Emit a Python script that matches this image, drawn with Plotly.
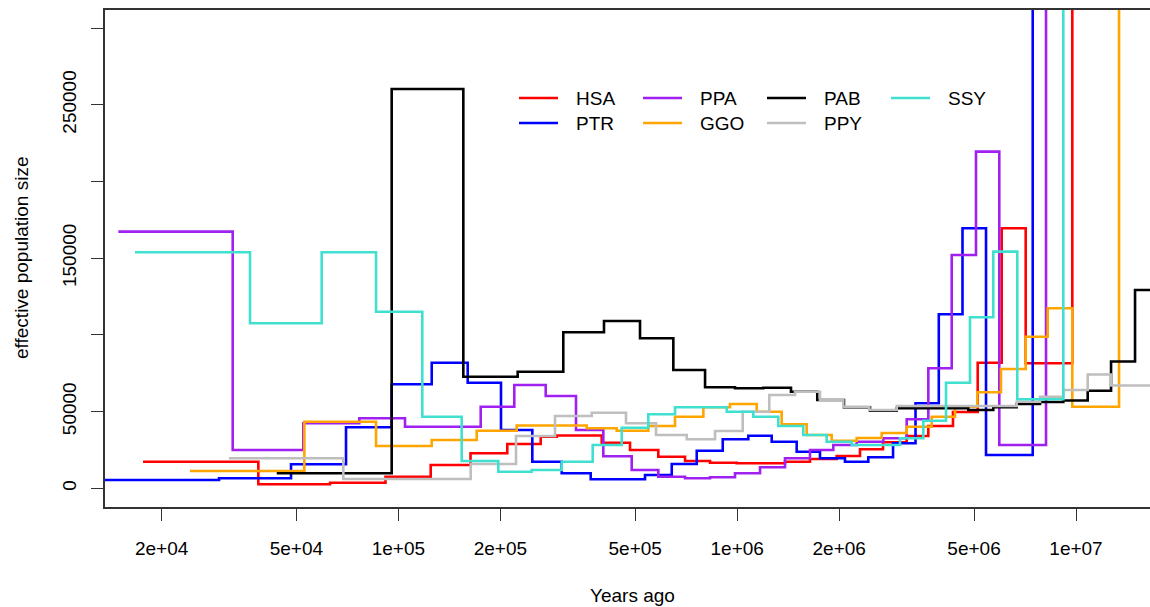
import plotly.graph_objects as go

# PSMC history per species: start of each time interval (years ago) and Ne in that interval
HSA_YEARS = [17630, 38600, 62830, 91600, 124550, 163240, 209580, 263030, 293230, 398200,
             482620, 584970, 701580, 831450, 996550, 1383700, 1639900, 1966100, 2304000,
             2694000, 3164600, 3665000, 4334000, 5127000, 6035000, 7104000, 9752000]
HSA_NE = [17340, 2610, 3650, 7560, 15190, 22820, 28880, 33640, 34430, 29730,
          24970, 20600, 17800, 16690, 16300, 17340, 19100, 21060, 25420,
          29990, 34100, 40620, 49750, 81890, 169520, 81500, 1200000]

PTR_YEARS = [13000, 29550, 48200, 70040, 95540, 125410, 160150, 200810, 248460, 303390,
             369470, 534450, 640890, 759570, 906400, 1078400, 1264100, 1498100, 1755200,
             2080000, 2437800, 2884000, 3359800, 3935500, 4623800, 5424900, 7451300]
PTR_NE = [5410, 6520, 15650, 39770, 67810, 81890, 68850, 38010, 17340, 9780,
          5870, 8670, 15840, 24510, 31950, 34300, 30380, 23860, 19560,
          17340, 20210, 29340, 55420, 113450, 169520, 21710, 1200000]

PPA_YEARS = [14906, 32430, 52410, 76660, 104590, 174960, 219810, 272150, 334340, 402530,
             488210, 584970, 701580, 831450, 985150, 1167600, 1383700, 1639900, 1921400,
             2252600, 2699000, 3164600, 3665300, 4296600, 5067500, 5937000, 8157000]
PPA_NE = [167300, 24970, 42380, 45640, 40160, 53200, 67350, 60180, 38010, 20860,
          11930, 7560, 6520, 7170, 9780, 13690, 19560, 24970, 28230,
          30380, 32600, 44990, 78240, 152110, 219460, 28230, 1200000]

GGO_YEARS = [24260, 52770, 85900, 125410, 170270, 223430, 359560, 440870, 546530, 655360,
             794450, 952400, 1141800, 1352900, 1603400, 1900300, 2252600, 2670500, 3164600,
             3750600, 4394600, 5113200, 6005700, 7104200, 8251400, 9752200, 13397000]
GGO_NE = [11280, 43420, 27580, 31490, 37560, 40950, 39120, 37560, 40620, 46680,
          52810, 54960, 49940, 41730, 34750, 31030, 32800, 36060, 40160,
          46680, 53200, 62590, 77780, 98840, 117360, 53200, 1200000]

PAB_YEARS = [43740, 95540, 155460, 224930, 306680, 404390, 516550, 647860, 803780, 985150,
             1194000, 1441300, 1723200, 2065800, 2466000, 2957200, 4809500, 5699900,
             6683400, 7829700, 9172800, 10827000, 12689000, 14936000]
PAB_NE = [9780, 260340, 72760, 76020, 101710, 109080, 97800, 77130, 65850, 65200,
          65590, 62980, 57570, 52810, 50600, 52160, 51050, 52810,
          54960, 56270, 57250, 63640, 82670, 129290]

PPY_YEARS = [31620, 68780, 163450, 222360, 289870, 372030, 469680, 575890, 709700, 860240,
             1038000, 1243600, 1481000, 1755200, 2056300, 2454100, 2957200, 6683400,
             7829700, 9172800, 10827000, 12689000]
PPY_NE = [19560, 6060, 15840, 34100, 47140, 49290, 42380, 34750, 31950, 37360,
          49940, 60830, 62980, 57570, 53200, 51050, 53660, 56460,
          59720, 64090, 74200, 67030]

SSY_YEARS = [16693, 36480, 59370, 85900, 117640, 153750, 197180, 247430, 303390, 374520,
             456140, 546530, 655360, 931400, 1115500, 1322100, 1566800, 1837000, 2177700,
             3024100, 3542500, 4133600, 4865200, 5699900, 6709600, 9172800]
SSY_NE = [153870, 107580, 153870, 115140, 46680, 17800, 10820, 11930, 17340, 28230,
          39510, 48250, 52810, 49940, 46680, 40620, 34750, 30380, 28230,
          32600, 44080, 68850, 111490, 154260, 58030, 1200000]

SERIES = [
    ("HSA", HSA_YEARS, HSA_NE, "#FF0000"),
    ("PTR", PTR_YEARS, PTR_NE, "#0000FF"),
    ("PPA", PPA_YEARS, PPA_NE, "#A020F0"),
    ("GGO", GGO_YEARS, GGO_NE, "#FFA500"),
    ("PAB", PAB_YEARS, PAB_NE, "#000000"),
    ("PPY", PPY_YEARS, PPY_NE, "#BEBEBE"),
    ("SSY", SSY_YEARS, SSY_NE, "#40E0D0"),
]
T_END = 2.5e7

X_TICKS = [2e4, 5e4, 1e5, 2e5, 5e5, 1e6, 2e6, 5e6, 1e7]
X_TICK_TEXT = ["2e+04", "5e+04", "1e+05", "2e+05", "5e+05", "1e+06", "2e+06", "5e+06", "1e+07"]
Y_TICKS = [0, 50000, 100000, 150000, 200000, 250000, 300000]
Y_TICK_TEXT = ["0", "50000", "", "150000", "", "250000", ""]

W, H = 1150, 607
ML, MR, MT, MB = 105, 0, 10, 100
FONT = "Liberation Sans, Arial, Helvetica, sans-serif"
AXIS_COLOR = "#333333"


def px_to_paper(px, py):
    return (px - ML) / (W - ML - MR), (H - MB - py) / (H - MT - MB)


fig = go.Figure()
for name, years, ne, color in SERIES:
    fig.add_trace(go.Scatter(
        x=list(years) + [T_END],
        y=list(ne) + [ne[-1]],
        mode="lines",
        name=name,
        line=dict(color=color, width=2.6, shape="hv"),
        showlegend=False,
        hoverinfo="skip",
    ))

# Legend: two rows, filled column by column
shapes, annotations = [], []
for i, (name, _, _, color) in enumerate(SERIES):
    col, row = divmod(i, 2)
    y_px = 98 + 25 * row
    x0_px = 519 + 124 * col
    x0, yp = px_to_paper(x0_px, y_px)
    x1, _ = px_to_paper(x0_px + 39, y_px)
    xt, _ = px_to_paper(x0_px + 55, y_px)
    shapes.append(dict(type="line", xref="paper", yref="paper", x0=x0, x1=x1, y0=yp, y1=yp,
                       line=dict(color=color, width=2.6)))
    annotations.append(dict(xref="paper", yref="paper", x=xt, y=yp, text=name, showarrow=False,
                            xanchor="left", yanchor="middle", font=dict(size=19, color="#000")))

# Axis titles
tx, ty = px_to_paper(632, 595)
annotations.append(dict(xref="paper", yref="paper", x=tx, y=ty, text="Years ago", showarrow=False,
                        xanchor="center", yanchor="middle", font=dict(size=19, color="#000")))
yx, yy = px_to_paper(21, 258)
annotations.append(dict(xref="paper", yref="paper", x=yx, y=yy, text="effective population size",
                        textangle=-90, showarrow=False, xanchor="center", yanchor="middle",
                        font=dict(size=19, color="#000")))

fig.update_layout(
    width=W, height=H, autosize=False,
    margin=dict(l=ML, r=MR, t=MT, b=MB, pad=0),
    paper_bgcolor="white", plot_bgcolor="white",
    font=dict(family=FONT, size=19, color="#000"),
    shapes=shapes, annotations=annotations,
    showlegend=False,
)
fig.update_xaxes(
    type="log", range=[4.1340, 7.2184],
    tickvals=X_TICKS, ticktext=X_TICK_TEXT,
    ticks="outside", ticklen=12, tickwidth=1.4, tickcolor=AXIS_COLOR,
    showline=True, linecolor=AXIS_COLOR, linewidth=1.6, mirror=True,
    showgrid=False, zeroline=False, ticklabelstandoff=11,
    tickfont=dict(size=19, color="#000"),
)
fig.update_yaxes(
    range=[-12190, 311800],
    tickvals=Y_TICKS, ticktext=Y_TICK_TEXT, tickangle=-90,
    ticks="outside", ticklen=12, tickwidth=1.4, tickcolor=AXIS_COLOR,
    showline=True, linecolor=AXIS_COLOR, linewidth=1.6, mirror=False,
    showgrid=False, zeroline=False, ticklabelstandoff=8,
    tickfont=dict(size=19, color="#000"),
)

fig.write_html("out.html")
